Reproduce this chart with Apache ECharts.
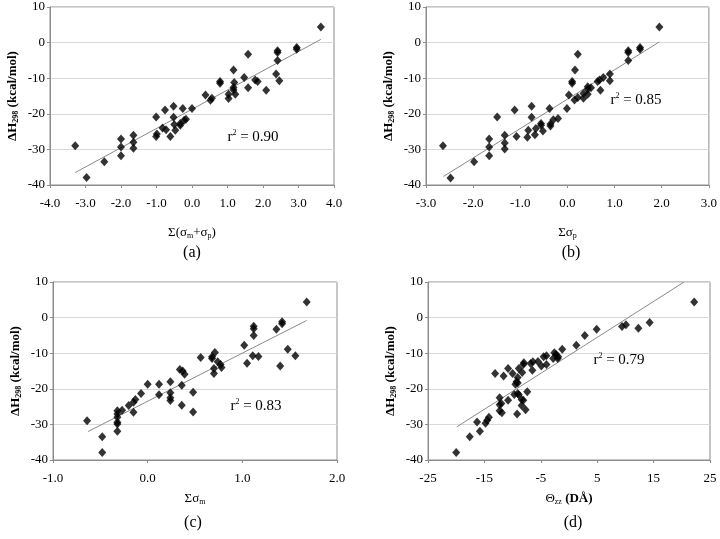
<!DOCTYPE html>
<html>
<head>
<meta charset="utf-8">
<script src="https://cdn.jsdelivr.net/npm/echarts@6/dist/echarts.min.js"></script>
<style>
  html, body { margin: 0; padding: 0; background: #fff; }
  #main { width: 720px; height: 539px; }
</style>
</head>
<body>
<div id="main"></div>
<script>
var chart = echarts.init(document.getElementById('main'));

// panel (a): sum(sigma_m + sigma_p) vs dH298
var aX = [3.63, 2.95, 2.95, 2.41, 2.41, 2.41, 1.58, 1.17, 1.47, 0.79, 0.79, 1.19, 1.78, 1.85, 2.37, 2.46, 1.58, 2.09,
          1.17, 1.17, 1.22, 1.03, 1.03, 0.38, 0.56, 0.52, 0.00, -0.26, -0.52, -0.76, -1.01, -0.52, -0.17, -0.22,
          -0.33, -0.33, -0.50, -0.47, -0.83, -0.73, -0.99, -1.01, -0.61, -1.65, -1.65, -1.65, -2.00, -2.00, -2.00,
          -2.47, -3.29, -2.97];
var aY = [4.4, -1.4, -1.9, -2.3, -2.8, -5.0, -3.3, -7.7, -9.8, -10.9, -11.4, -11.2, -10.5, -10.9, -8.8, -10.7, -12.7, -13.4,
          -12.6, -13.3, -14.5, -14.5, -15.7, -14.7, -15.6, -16.2, -18.5, -18.5, -17.9, -18.9, -20.9, -21.0, -21.5, -21.8,
          -22.7, -23.2, -23.0, -24.6, -24.0, -24.5, -25.7, -26.4, -26.4, -26.0, -28.0, -29.7, -27.1, -29.3, -31.8,
          -33.5, -29.0, -37.9];
var aFit = [[-3.29, -36.5], [3.63, 0.9]];

// panel (b): sum(sigma_p)
var bX = [1.95, 1.54, 1.54, 1.29, 1.29, 1.29, 0.22, 0.16, 0.90, 0.76, 0.90, 0.64, 0.68, 0.10, 0.10, 0.43, 0.50, 0.43,
          0.70, 0.34, 0.43, 0.03, 0.22, 0.15, 0.34, -0.01, -0.38, -0.76, -1.12, -1.49, -0.76, -0.20, -0.30, -0.36,
          -0.36, -0.56, -0.56, -0.67, -0.52, -0.83, -0.69, -0.85, -1.08, -1.33, -1.33, -1.33, -1.66, -1.66, -1.66,
          -1.98, -2.64, -2.48];
var bY = [4.4, -1.4, -1.9, -2.3, -2.8, -5.0, -3.3, -7.7, -8.8, -9.8, -10.7, -10.9, -10.5, -10.9, -11.4, -12.4, -12.7, -13.1,
          -13.4, -14.3, -14.5, -14.7, -15.4, -16.1, -15.6, -18.5, -18.5, -17.9, -18.9, -20.9, -21.0, -21.3, -21.7, -22.9,
          -23.4, -22.7, -23.2, -24.1, -24.8, -24.6, -25.9, -26.6, -26.4, -26.0, -28.2, -29.9, -27.1, -29.3, -31.8,
          -33.5, -29.0, -38.0];
var bFit = [[-2.63, -37.6], [1.95, 0.2]];

// panel (c): sum(sigma_m)
var cX = [1.68, 1.42, 1.42, 1.36, 1.12, 1.12, 1.12, 1.02, 1.48, 1.56, 1.11, 1.17, 1.05, 1.40, 0.56, 0.71, 0.68, 0.68,
          0.74, 0.77, 0.78, 0.70, 0.70, 0.34, 0.37, 0.39, 0.36, 0.24, 0.12, 0.00, -0.07, 0.12, 0.24, 0.24, 0.24,
          0.48, 0.36, 0.48, -0.13, -0.15, -0.20, -0.27, -0.15, -0.32, -0.32, -0.32, -0.32, -0.32, -0.32, -0.64,
          -0.48, -0.48];
var cY = [4.4, -1.2, -1.7, -3.3, -2.4, -3.1, -5.0, -7.8, -8.9, -10.7, -10.7, -10.9, -12.8, -13.6, -11.2, -9.8, -11.0, -11.5,
          -12.4, -13.2, -14.0, -14.3, -15.7, -14.6, -15.0, -15.9, -19.0, -18.0, -18.7, -18.7, -21.3, -21.7, -21.1, -22.5, -23.3,
          -21.0, -24.6, -26.5, -23.0, -23.8, -24.7, -26.0, -26.6, -26.2, -27.1, -28.0, -29.4, -29.9, -31.9, -29.0,
          -33.5, -37.9];
var cFit = [[-0.63, -32.0], [1.68, -0.8]];

// panel (d): Theta_zz (D A)
var dX = [22.2, 14.3, 12.3, 9.4, 10.1, 4.9, 2.8, 1.3, -1.2, -2.6, -2.3, -1.9, -2.0, -2.8, -4.0, -4.5, -4.0, -5.5, -4.9,
          -6.4, -6.8, -6.5, -8.0, -8.1, -8.9, -8.3, -9.1, -10.8, -10.0, -11.6, -13.1, -9.3, -9.5, -9.1, -7.4, -9.1,
          -9.7, -8.9, -10.8, -12.3, -8.4, -8.1, -12.0, -12.3, -8.4, -7.7, -12.3, -11.9, -9.2, -14.2, -14.5, -14.8,
          -16.3, -15.8, -17.6, -20.0];
var dY = [4.4, -1.4, -3.0, -2.5, -2.0, -3.3, -5.0, -7.8, -8.9, -9.9, -10.4, -11.0, -11.5, -11.5, -10.7, -11.0, -13.2, -12.3, -13.6,
          -12.4, -12.9, -14.8, -12.7, -13.2, -14.3, -15.4, -16.8, -14.3, -15.7, -16.4, -15.7, -18.0, -18.7, -18.4, -20.8, -21.3,
          -21.6, -21.7, -23.2, -22.5, -23.0, -23.2, -24.1, -24.5, -24.7, -25.9, -26.2, -26.7, -27.1, -28.0, -28.8, -29.7,
          -29.3, -31.9, -33.5, -37.9];
var dFit = [[-19.9, -30.7], [20.4, 10.0]];

var yTicks = { min: -40, max: 10, interval: 10 };
var xRanges = [
    { min: -4, max: 4, interval: 1, dec: 1 },
    { min: -3, max: 3, interval: 1, dec: 1 },
    { min: -1, max: 2, interval: 1, dec: 1 },
    { min: -25, max: 25, interval: 10, dec: 0 }
];
var xNames = [
    'Σ(σ{s|m}+σ{s|p})',
    'Σσ{s|p}',
    'Σσ{s|m}',
    'Θ{s|zz} {b|(DÅ)}'
];
var xNameGaps = [40, 40, 31, 31];
var r2Text = ['0.90', '0.85', '0.83', '0.79'];
var panelTags = ['(a)', '(b)', '(c)', '(d)'];

var FONT = 'Liberation Serif';
var grids = [
    { left: 50, top: 7, width: 284, height: 178 },
    { left: 426, top: 7, width: 287, height: 178 },
    { left: 53, top: 282, width: 284, height: 178 },
    { left: 428, top: 282, width: 282, height: 178 }
];

function toPairs(xs, ys) {
    return xs.map(function (x, i) { return [x, ys[i]]; });
}
var scatterData = [toPairs(aX, aY), toPairs(bX, bY), toPairs(cX, cY), toPairs(dX, dY)];
var fits = [aFit, bFit, cFit, dFit];

var xAxes = [], yAxes = [], series = [], graphics = [];
grids.forEach(function (g, i) {
    g.show = true;
    g.borderColor = '#8c8c8c';
    g.borderWidth = 1;
    g.backgroundColor = '#fff';
    var r = xRanges[i];
    xAxes.push({
        gridIndex: i, type: 'value', min: r.min, max: r.max, interval: r.interval,
        axisLine: { onZero: false, lineStyle: { color: '#8c8c8c' } },
        axisTick: { show: true, length: 3, lineStyle: { color: '#8c8c8c' } },
        splitLine: { show: false },
        axisLabel: {
            color: '#000', fontFamily: FONT, fontSize: 13, margin: 12,
            formatter: (function (d) { return function (v) { return '{t|' + v.toFixed(d) + '}'; }; })(r.dec),
            rich: { t: { fontFamily: FONT, fontSize: 13, color: '#000' } }
        },
        name: xNames[i], nameLocation: 'middle', nameGap: xNameGaps[i],
        nameTextStyle: {
            color: '#000', fontFamily: FONT, fontSize: 13,
            rich: {
                s: { fontFamily: FONT, fontSize: 8, padding: [7, 0, 0, 0] },
                b: { fontFamily: FONT, fontSize: 13, fontWeight: 'bold' }
            }
        }
    });
    yAxes.push({
        gridIndex: i, type: 'value', min: yTicks.min, max: yTicks.max, interval: yTicks.interval,
        axisLine: { onZero: false, lineStyle: { color: '#8c8c8c' } },
        axisTick: { show: true, length: 3, lineStyle: { color: '#8c8c8c' } },
        splitLine: { show: true, lineStyle: { color: '#d9d9d9', width: 1 } },
        axisLabel: {
            color: '#000', fontFamily: FONT, fontSize: 13, margin: 5,
            formatter: function (v) { return '{t|' + v + '}'; },
            rich: { t: { fontFamily: FONT, fontSize: 13, color: '#000' } }
        },
        name: '{b|ΔH}{s|298}{b| (kcal/mol)}', nameLocation: 'middle', nameGap: 30, nameRotate: 90,
        nameTextStyle: {
            rich: {
                b: { fontFamily: FONT, fontSize: 13, fontWeight: 'bold', color: '#000' },
                s: { fontFamily: FONT, fontSize: 8, fontWeight: 'bold', color: '#000', padding: [7, 0, 0, 0] }
            }
        }
    });
    series.push({
        type: 'line', xAxisIndex: i, yAxisIndex: i, data: fits[i], symbol: 'none',
        lineStyle: { color: '#8a8a8a', width: 1 }, silent: true, z: 2
    });
    series.push({
        type: 'scatter', xAxisIndex: i, yAxisIndex: i, data: scatterData[i],
        symbol: 'diamond', symbolSize: [8, 9],
        itemStyle: { color: '#000' }, z: 3
    });
});

// r² annotations and panel tags
var r2Pos = [[253, 137], [636, 100], [256, 406], [619, 360]];
var tagPos = [[192, 253], [571, 253], [193, 523], [573, 523]];
r2Pos.forEach(function (p, i) {
    graphics.push({
        type: 'text', x: p[0], y: p[1], z: 10,
        style: {
            text: '{r|r}{p|2}{r| = ' + r2Text[i] + '}',
            align: 'center', verticalAlign: 'middle',
            rich: {
                r: { fontFamily: FONT, fontSize: 15, fill: '#000' },
                p: { fontFamily: FONT, fontSize: 8, fill: '#000', padding: [0, 0, 8, 0] }
            }
        }
    });
});
tagPos.forEach(function (p, i) {
    graphics.push({
        type: 'text', x: p[0], y: p[1], z: 10,
        style: {
            text: panelTags[i], align: 'center', verticalAlign: 'middle',
            font: '16px "Liberation Serif"', fill: '#000'
        }
    });
});

var option = {
    backgroundColor: '#fff',
    animation: false,
    textStyle: { fontFamily: FONT },
    grid: grids,
    xAxis: xAxes,
    yAxis: yAxes,
    series: series,
    graphic: graphics
};

chart.setOption(option);
</script>
</body>
</html>
